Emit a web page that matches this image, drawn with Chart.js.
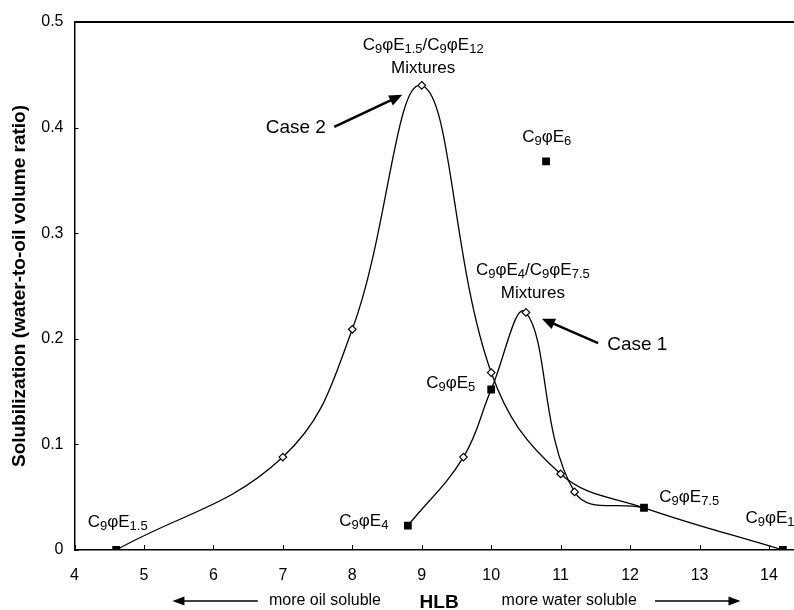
<!DOCTYPE html>
<html>
<head>
<meta charset="utf-8">
<script src="https://cdn.jsdelivr.net/npm/chart.js@4/dist/chart.umd.min.js"></script>
<style>
  html, body { margin: 0; padding: 0; background: #fff; }
  #wrap { width: 794px; height: 610px; position: relative; }
</style>
</head>
<body>
<div id="wrap"><canvas id="c" width="794" height="610"></canvas></div>
<script>
// ---- Data ----
// Case 2: C9φE1.5 / C9φE12 mixtures (HLB, solubilization)
const case2HLB = [4.6, 7.0, 8.0, 9.0, 10.0, 11.0, 12.2, 14.2];
const case2Sol = [0.0, 0.088, 0.209, 0.440, 0.168, 0.072, 0.040, 0.0];
const case2Measured = [false, true, true, true, true, true, false, false];

// Case 1: C9φE4 / C9φE7.5 mixtures
const case1HLB = [8.8, 9.6, 10.0, 10.5, 11.2, 12.2];
const case1Sol = [0.023, 0.088, 0.152, 0.225, 0.055, 0.040];
const case1Measured = [false, true, false, true, true, false];

// Pure surfactants (filled squares)
const pureNames = ['1.5', '4', '5', '6', '7.5', '12'];
const pureHLB = [4.6, 8.8, 10.0, 10.79, 12.2, 14.2];
const pureSol = [0.0, 0.023, 0.152, 0.368, 0.040, 0.0];

// Axis ticks
const xTicks = [4, 5, 6, 7, 8, 9, 10, 11, 12, 13, 14];
const yTicks = [0, 0.1, 0.2, 0.3, 0.4, 0.5];

const toXY = (xs, ys) => xs.map((x, i) => ({ x: x, y: ys[i] }));

// ---- Annotation text (anchored in data coordinates) ----
const chemLabels = [
  { parts: [['C'], ['9', 1], ['φE'], ['1.5', 1], ['/C'], ['9', 1], ['φE'], ['12', 1]], x: 9.02, y: 0.478, align: 'center' },
  { parts: [['Mixtures']], x: 9.02, y: 0.456, align: 'center' },
  { parts: [['C'], ['9', 1], ['φE'], ['6', 1]], x: 10.80, y: 0.391, align: 'center' },
  { parts: [['C'], ['9', 1], ['φE'], ['4', 1], ['/C'], ['9', 1], ['φE'], ['7.5', 1]], x: 10.60, y: 0.265, align: 'center' },
  { parts: [['Mixtures']], x: 10.60, y: 0.243, align: 'center' },
  { parts: [['C'], ['9', 1], ['φE'], ['5', 1]], x: 9.77, y: 0.158, align: 'right' },
  { parts: [['C'], ['9', 1], ['φE'], ['1.5', 1]], x: 4.19, y: 0.0265, align: 'left' },
  { parts: [['C'], ['9', 1], ['φE'], ['4', 1]], x: 8.52, y: 0.0268, align: 'right' },
  { parts: [['C'], ['9', 1], ['φE'], ['7.5', 1]], x: 12.42, y: 0.0502, align: 'left' },
  { parts: [['C'], ['9', 1], ['φE'], ['12', 1]], x: 13.66, y: 0.0303, align: 'left' }
];
const caseLabels = [
  { text: 'Case 2', x: 7.62, y: 0.400, align: 'right', from: [7.74, 0.4006], to: [8.72, 0.431] },
  { text: 'Case 1', x: 11.67, y: 0.194, align: 'left', from: [11.54, 0.196], to: [10.73, 0.219] }
];
const bottomNotes = [
  { text: 'more oil soluble', x: 6.80, align: 'left', bold: false },
  { text: 'HLB', x: 9.25, align: 'center', bold: true },
  { text: 'more water soluble', x: 10.15, align: 'left', bold: false }
];
const bottomArrows = [ { from: 6.64, to: 5.41 }, { from: 12.36, to: 13.59 } ];

const FONT = '"Liberation Sans", Arial, Helvetica, sans-serif';

function drawArrowHead(ctx, x1, y1, x2, y2, len, half) {
  const a = Math.atan2(y2 - y1, x2 - x1);
  ctx.beginPath();
  ctx.moveTo(x2, y2);
  ctx.lineTo(x2 - len * Math.cos(a) + half * Math.sin(a), y2 - len * Math.sin(a) - half * Math.cos(a));
  ctx.lineTo(x2 - len * Math.cos(a) - half * Math.sin(a), y2 - len * Math.sin(a) + half * Math.cos(a));
  ctx.closePath();
  ctx.fill();
}

function drawChem(ctx, parts, x, y, align) {
  const mainF = '17px ' + FONT, subF = '13px ' + FONT;
  let w = 0;
  parts.forEach(p => { ctx.font = p[1] ? subF : mainF; w += ctx.measureText(p[0]).width; });
  let cx = align === 'center' ? x - w / 2 : (align === 'right' ? x - w : x);
  ctx.textAlign = 'left';
  ctx.textBaseline = 'middle';
  parts.forEach(p => {
    ctx.font = p[1] ? subF : mainF;
    ctx.fillText(p[0], cx, p[1] ? y + 4 : y);
    cx += ctx.measureText(p[0]).width;
  });
}

const annotations = {
  id: 'annotations',
  afterDraw(chart) {
    const ctx = chart.ctx, xs = chart.scales.x, ys = chart.scales.y, ca = chart.chartArea;
    ctx.save();
    ctx.fillStyle = '#000';
    ctx.strokeStyle = '#000';
    // top frame line
    ctx.lineWidth = 2;
    ctx.beginPath();
    ctx.moveTo(ca.left, ca.top);
    ctx.lineTo(chart.width, ca.top);
    ctx.stroke();
    // inside tick marks
    ctx.lineWidth = 1;
    xTicks.forEach(v => {
      const px = Math.round(xs.getPixelForValue(v)) + 0.5;
      ctx.beginPath(); ctx.moveTo(px, ca.bottom); ctx.lineTo(px, ca.bottom - 5); ctx.stroke();
    });
    yTicks.forEach(v => {
      const py = Math.round(ys.getPixelForValue(v)) + 0.5;
      ctx.beginPath(); ctx.moveTo(ca.left, py); ctx.lineTo(ca.left + 4, py); ctx.stroke();
    });
    // chemical labels
    chemLabels.forEach(l => drawChem(ctx, l.parts, xs.getPixelForValue(l.x), ys.getPixelForValue(l.y), l.align));
    // Case labels with arrows
    caseLabels.forEach(l => {
      ctx.font = '19px ' + FONT;
      ctx.textAlign = l.align;
      ctx.textBaseline = 'middle';
      ctx.fillText(l.text, xs.getPixelForValue(l.x), ys.getPixelForValue(l.y));
      const x1 = xs.getPixelForValue(l.from[0]), y1 = ys.getPixelForValue(l.from[1]);
      const x2 = xs.getPixelForValue(l.to[0]), y2 = ys.getPixelForValue(l.to[1]);
      const a = Math.atan2(y2 - y1, x2 - x1);
      ctx.lineWidth = 2.5;
      ctx.beginPath(); ctx.moveTo(x1, y1); ctx.lineTo(x2 - 10 * Math.cos(a), y2 - 10 * Math.sin(a)); ctx.stroke();
      drawArrowHead(ctx, x1, y1, x2, y2, 13, 5.5);
    });
    // bottom notes
    const by = ca.bottom + 51;
    bottomNotes.forEach(n => {
      ctx.font = (n.bold ? 'bold 19px ' : '16px ') + FONT;
      ctx.textAlign = n.align;
      ctx.textBaseline = 'middle';
      ctx.fillText(n.text, xs.getPixelForValue(n.x), by + (n.bold ? 2 : 0));
    });
    bottomArrows.forEach(a => {
      const x1 = xs.getPixelForValue(a.from), x2 = xs.getPixelForValue(a.to);
      const dir = Math.sign(x2 - x1);
      ctx.lineWidth = 1.5;
      ctx.beginPath(); ctx.moveTo(x1, by); ctx.lineTo(x2 - dir * 8, by); ctx.stroke();
      drawArrowHead(ctx, x1, by, x2, by, 12, 4.5);
    });
    ctx.restore();
  }
};

new Chart(document.getElementById('c'), {
  type: 'line',
  data: {
    datasets: [
      {
        label: 'Pure surfactants',
        data: toXY(pureHLB, pureSol),
        showLine: false,
        pointStyle: 'rect',
        pointRadius: 5.5,
        pointBackgroundColor: '#000',
        pointBorderColor: '#000',
        pointBorderWidth: 0
      },
      {
        label: 'Case 1',
        data: toXY(case1HLB, case1Sol),
        borderColor: '#000',
        borderWidth: 1.3,
        tension: 0.4,
        pointStyle: 'rectRot',
        pointRadius: case1Measured.map(m => m ? 3.8 : 0),
        pointBackgroundColor: '#fff',
        pointBorderColor: '#000',
        pointBorderWidth: 1.2
      },
      {
        label: 'Case 2',
        data: toXY(case2HLB, case2Sol),
        borderColor: '#000',
        borderWidth: 1.3,
        tension: 0.4,
        pointStyle: 'rectRot',
        pointRadius: case2Measured.map(m => m ? 3.8 : 0),
        pointBackgroundColor: '#fff',
        pointBorderColor: '#000',
        pointBorderWidth: 1.2
      }
    ]
  },
  options: {
    responsive: false,
    animation: false,
    layout: { autoPadding: false, padding: { top: 22, right: 0, left: 0, bottom: 0 } },
    plugins: { legend: { display: false }, tooltip: { enabled: false } },
    elements: { line: { fill: false } },
    scales: {
      x: {
        type: 'linear',
        min: 4, max: 14.36,
        afterBuildTicks: s => { s.ticks = xTicks.map(v => ({ value: v })); },
        afterFit: s => { s.height = 60; s.paddingLeft = 0; s.paddingRight = 0; },
        grid: { display: true, drawOnChartArea: false, drawTicks: false },
        border: { display: true, color: '#000', width: 1.5 },
        ticks: { color: '#000', font: { family: FONT, size: 16 }, padding: 16, maxRotation: 0 }
      },
      y: {
        type: 'linear',
        min: 0, max: 0.5,
        afterBuildTicks: s => { s.ticks = yTicks.map(v => ({ value: v })); },
        afterFit: s => { s.width = 74.5; },
        grid: { display: true, drawOnChartArea: false, drawTicks: false },
        border: { display: true, color: '#000', width: 1.5 },
        ticks: { color: '#000', font: { family: FONT, size: 16 }, padding: 11 },
        title: {
          display: true,
          text: 'Solubilization (water-to-oil volume ratio)',
          color: '#000',
          font: { family: FONT, size: 19, weight: 'bold' },
          padding: { top: 8, bottom: 0 }
        }
      }
    }
  },
  plugins: [annotations]
});
</script>
</body>
</html>
